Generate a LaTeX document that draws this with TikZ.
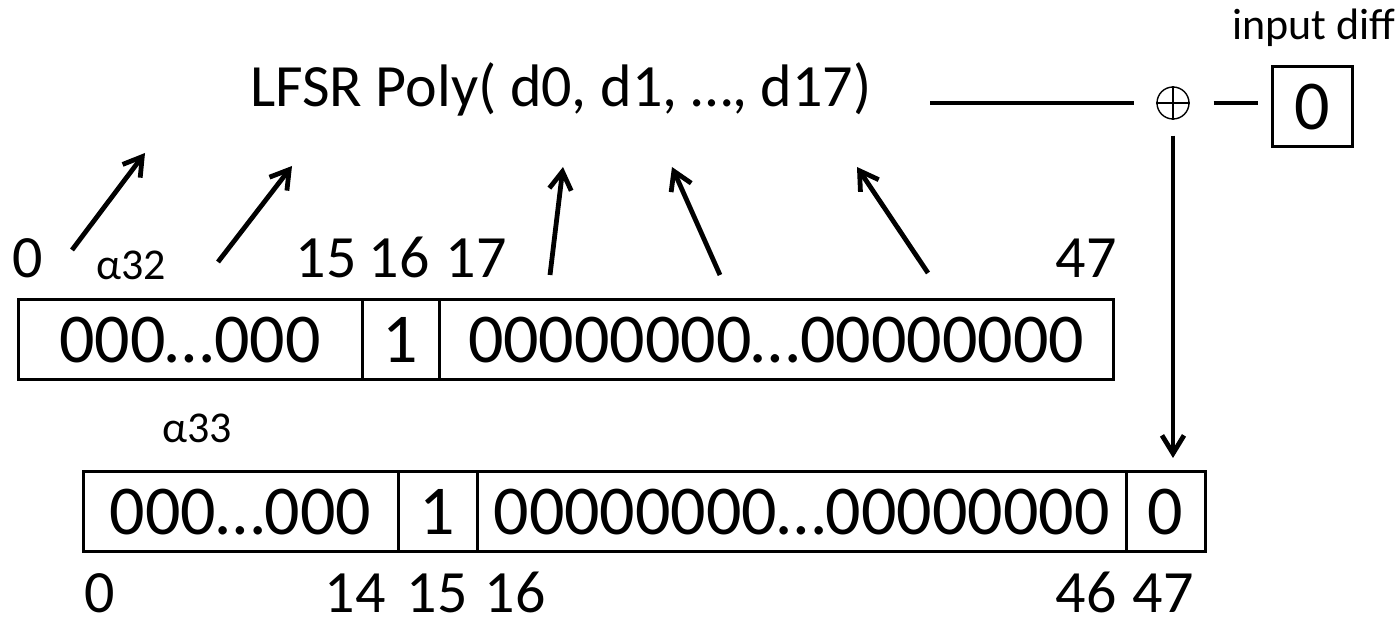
\documentclass[tikz,border=0pt]{standalone}
\usepackage{fontspec}
\setmainfont{Carlito}
\usepackage{tikz}
\usetikzlibrary{arrows.meta,positioning}

\begin{document}
\begin{tikzpicture}[
    x=0.5pt, y=-0.5pt,
    cell/.style={draw, line width=1.5pt, inner sep=0pt, outer sep=0pt, minimum height=40pt, font=\fontsize{35}{40}\selectfont},
    idx/.style={anchor=base, inner sep=0pt, font=\fontsize{30}{36}\selectfont},
    lbl/.style={anchor=base, inner sep=0pt, font=\fontsize{22}{26}\selectfont},
    arr/.style={-{Straight Barb[length=9pt, width=11pt]}, line width=2.4pt},
    wire/.style={line width=2.2pt},
]
\useasboundingbox (0,0) rectangle (1399,625);

% Polynomial
\node[anchor=base west, inner sep=0pt, font=\fontsize{30}{36}\selectfont] (poly) at (250,107) {LFSR Poly( d0, d1, …, d17)};

% Input difference and xor
\node[circle, draw, line width=0.7pt, minimum size=16pt, inner sep=0pt] (xor) at (1173,103) {};
\draw[line width=0.7pt] (xor.north) -- (xor.south) (xor.west) -- (xor.east);
\node[cell, minimum width=40pt] (din) at (1312,107) {0};
\node[lbl] (dinlbl) at (1314,40) {input diff};

% Register alpha32
\node[cell, minimum width=172pt, anchor=north west] (a1) at (18,300) {000…000};
\node[cell, minimum width=38.5pt, right=0pt of a1] (a2) {1};
\node[cell, minimum width=337pt, right=0pt of a2] (a3) {00000000…00000000};

\node[idx] (ta0) at (28,278) {0};
\node[lbl] (al32) at (131,280) {α32};
\node[idx] (ta15) at (326,278) {15};
\node[idx] (ta16) at (399,278) {16};
\node[idx] (ta17) at (476,278) {17};
\node[idx] (ta47) at (1086,278) {47};

% Register alpha33
\node[cell, minimum width=157.5pt, anchor=north west] (b1) at (83,472) {000…000};
\node[cell, minimum width=39.5pt, right=0pt of b1] (b2) {1};
\node[cell, minimum width=324.5pt, right=0pt of b2] (b3) {00000000…00000000};
\node[cell, minimum width=39.5pt, right=0pt of b3] (b4) {0};

\node[lbl] (al33) at (197,443) {α33};
\node[idx] (tb0) at (100,613) {0};
\node[idx] (tb14) at (355,613) {14};
\node[idx] (tb15) at (437,613) {15};
\node[idx] (tb16) at (515,613) {16};
\node[idx] (tb46) at (1086,613) {46};
\node[idx] (tb47) at (1163,613) {47};

% Taps into the polynomial
\coordinate (s0) at (72,250);  \coordinate (p0) at (145,153);
\coordinate (s1) at (218,262); \coordinate (p1) at (292,166);
\coordinate (s2) at (550,275); \coordinate (p2) at (563,167);
\coordinate (s3) at (720,275); \coordinate (p3) at (672,167);
\coordinate (s4) at (928,273); \coordinate (p4) at (857,167);
\foreach \i in {0,...,4}
    \draw[arr] (s\i) -- (p\i);

% Feedback
\coordinate (fb) at (930,103);
\draw[wire, shorten >=11pt] (fb) -- (xor);
\draw[wire, shorten <=12pt, shorten >=7pt] (xor) -- (xor -| din.west);
\draw[arr, shorten <=8pt, shorten >=7pt] (xor) -- (xor |- b4.north);
\end{tikzpicture}
\end{document}
